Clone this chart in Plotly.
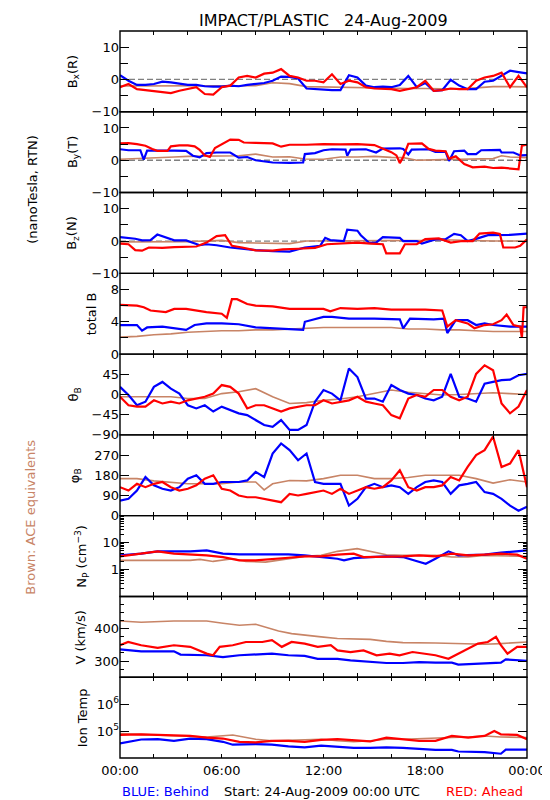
import plotly.graph_objects as go
from plotly.subplots import make_subplots

# ---------------- colours ----------------
BLUE = "#0000ff"
RED = "#ff0000"
BROWN = "#c88466"
FONT = "DejaVu Sans"

# ---------------- time grids (hours after 24-Aug-2009 00:00 UTC) ----------------
t_half = [0.0, 0.5, 1.0, 1.5, 2.0, 2.5, 3.0, 3.5, 4.0, 4.5, 5.0, 5.5, 6.0, 6.5, 7.0, 7.5,
          8.0, 8.5, 9.0, 9.5, 10.0, 10.5, 11.0, 11.5, 12.0, 12.5, 13.0, 13.5, 14.0, 14.5,
          15.0, 15.5, 16.0, 16.5, 17.0, 17.5, 18.0, 18.5, 19.0, 19.5, 20.0, 20.5, 21.0,
          21.5, 22.0, 22.5, 23.0, 23.5, 24.0]
t_hour = [0, 1, 2, 3, 4, 5, 6, 7, 8, 9, 10, 11, 12, 13, 14, 15, 16, 17, 18, 19, 20,
          21, 22, 23, 24]

x_tickvals = [0, 2, 4, 6, 8, 10, 12, 14, 16, 18, 20, 22, 24]
x_ticktext = ["00:00", "", "", "06:00", "", "", "12:00", "", "", "18:00", "", "", "00:00"]

# ---------------- Bx (R) ----------------
bx_blue = [1.3, -0.4, -1.7, -1.7, -1.4, -0.7, -0.9, -1.4, -1.7, -1.7, -2.1, -2.2, -2.2,
           -1.9, -2.1, -1.7, -1.5, -1.1, -0.4, 0.9, 0.8, 0.3, -2.8, -3.0, -3.1, -3.3,
           -3.3, 1.3, 0.6, -1.9, -2.4, -2.2, -2.4, -1.7, 1.1, -2.4, -1.1, -3.5, -3.3,
           -0.1, -1.9, -3.0, -3.0, -0.7, -0.4, 1.1, 2.7, 2.3, 1.9]
bx_red = [-2.4, -1.4, -3.0, -3.3, -3.5, -3.8, -4.2, -3.5, -3.0, -2.4, -4.5, -4.7, -2.4,
          -1.9, 0.6, 1.1, 0.6, 1.8, 2.1, 3.2, 1.1, 0.6, -0.4, -0.4, -0.9, 1.6, -1.4,
          -0.4, -0.9, -2.4, -2.8, -3.0, -3.0, -3.5, -3.0, -2.4, -0.4, -3.5, -3.3, -2.8,
          -3.0, -3.0, -0.4, 0.6, 1.1, 2.1, -2.4, 1.1, -2.4]
bx_ace = [-2.0, -2.0, -1.8, -2.0, -1.9, -1.8, -2.0, -2.0, -1.9, -1.0, -1.3, -2.2, -2.3,
          -2.4, -2.6, -2.8, -2.8, -2.8, -2.8, -3.0, -3.0, -2.6, -2.2, -2.2, -2.3]

# ---------------- By (T) ----------------
by_blue_t = [0, 0.5, 1.2, 1.4, 1.6, 2.5, 3.2, 3.9, 4.3, 4.7, 5.1, 5.7, 6.5, 7.0, 7.5, 8.0,
             8.5, 9.0, 10.0, 10.8, 10.9, 11.5, 12.0, 12.5, 13.3, 13.4, 13.6, 14.5, 15.1,
             15.5, 16.5, 16.7, 17.0, 17.2, 18.2, 18.6, 19.2, 19.4, 19.7, 20.3, 20.5, 21.0,
             21.3, 22.4, 22.5, 23.2, 23.6, 24.0]
by_blue = [3.4, 3.1, 3.1, 0.2, 3.0, 3.1, 3.0, 2.9, 1.4, 0.9, 2.2, 2.4, 2.4, 0.8, 1.0, 0.0,
           -0.3, -0.7, -0.8, -0.7, 1.9, 2.2, 3.1, 3.4, 3.3, 1.4, 3.3, 3.4, 2.4, 3.6, 3.7,
           3.5, 1.8, 3.3, 3.4, 2.6, 2.6, -0.2, 2.8, 3.0, 1.9, 1.9, 3.1, 3.2, 2.4, 2.4, 1.5,
           1.6]
by_red_t = [0, 0.5, 1.0, 1.5, 1.9, 2.2, 2.8, 3.0, 3.5, 4.0, 4.4, 4.7, 5.0, 5.3, 5.6, 6.0,
            6.5, 7.0, 7.3, 8.0, 9.0, 9.5, 10.0, 11.0, 12.0, 13.0, 14.0, 15.0, 15.5, 16.0,
            16.3, 16.5, 16.7, 17.0, 17.8, 18.2, 18.6, 19.2, 19.4, 19.8, 20.3, 20.8, 21.5,
            22.0, 22.5, 23.0, 23.5, 23.7, 24.0]
by_red = [5.2, 5.3, 5.0, 4.5, 3.5, 2.9, 2.9, 4.3, 4.6, 4.6, 4.3, 3.2, 1.5, 1.0, 3.8, 5.0,
          6.4, 6.3, 5.5, 5.4, 5.2, 4.2, 4.8, 4.8, 5.0, 4.9, 5.0, 4.7, 3.7, 2.5, 1.5, -0.9,
          1.0, 5.1, 5.2, 3.5, 3.0, 2.8, 0.5, 1.2, -1.2, -2.2, -2.0, -2.4, -2.3, -2.6, -2.8,
          4.5, 4.8]
by_ace_t = [0, 2, 3.2, 4, 5, 6, 7, 8, 9, 10, 10.9, 12, 13, 14, 15, 16, 16.7, 17.5, 18, 19,
            20, 21, 22, 22.5, 23, 24]
by_ace = [0.3, 0.6, 1.0, 1.2, 1.3, 1.4, 1.4, 1.9, 1.0, 1.1, 0.4, 0.3, 1.0, 1.0, 1.2, 0.9,
          0.8, 0.0, 0.0, 0.2, 0.3, 0.4, 0.5, 1.4, 1.0, 0.8]

# ---------------- Bz (N) ----------------
bz_blue_t = [0, 0.9, 1.3, 1.8, 2.2, 2.6, 3.2, 3.9, 4.3, 4.7, 5.1, 5.7, 6.5, 7.0, 8.0, 9.0,
             10.0, 10.9, 11.8, 12.1, 12.4, 13.2, 13.4, 14.0, 14.2, 14.7, 15.1, 15.5, 16.5,
             16.7, 17.5, 17.8, 18.6, 19.2, 19.7, 20.1, 20.5, 20.9, 21.3, 21.7, 23.0, 24.0]
bz_blue = [1.2, 0.7, 0.2, 0.3, 2.0, 1.2, 0.2, 0.2, -0.5, -1.3, -1.0, -1.3, -2.0, -2.3,
           -2.8, -3.1, -3.3, -2.0, -1.5, 1.0, 0.3, 0.0, 3.5, 3.2, 1.8, -0.6, -0.5, 1.2,
           1.0, 0.0, 0.0, -0.8, 0.5, 0.6, 2.2, 1.8, 0.0, 0.5, 1.2, 1.8, 1.9, 2.3]
bz_red_t = [0, 0.5, 0.9, 1.3, 1.7, 2.5, 3.2, 3.9, 4.5, 5.1, 5.7, 6.2, 6.6, 7.2, 8.0, 9.0,
            9.6, 10.5, 11.5, 12.2, 13.2, 14.0, 14.8, 15.5, 15.7, 16.5, 16.8, 17.5, 18.0,
            18.8, 19.5, 20.2, 20.8, 21.2, 22.0, 22.4, 22.6, 23.3, 23.6, 24.0]
bz_red = [-0.8, -1.0, -2.8, -3.0, -2.0, -2.1, -1.9, -1.8, -1.7, -0.5, 1.5, 1.8, -1.5,
          -2.0, -2.9, -3.0, -2.6, -2.4, -2.1, -1.0, -0.6, -0.5, -0.8, -1.0, -3.8, -3.8,
          -1.0, -1.0, 0.6, 0.8, -0.5, 0.0, 0.0, 2.3, 2.6, 2.2, -2.0, -2.0, -1.5, 0.5]
bz_ace_t = [0, 2, 4, 5, 6, 7, 8.5, 10, 11, 12, 13, 15, 17, 18, 19, 20, 22, 24]
bz_ace = [-0.3, -0.3, -0.2, 0.0, 0.2, -0.5, -0.7, -0.8, 0.0, 0.0, 0.2, 0.0, 0.0, 0.2,
          0.4, 0.2, 0.0, 0.0]

# ---------------- total B ----------------
bt_blue_t = [0, 1.0, 1.3, 1.6, 2.5, 3.2, 3.9, 4.4, 5.1, 6.0, 7.0, 8.0, 9.0, 10.0, 10.8,
             10.9, 12.0, 12.5, 13.5, 15.0, 16.5, 16.7, 17.1, 18.5, 19.1, 19.3, 19.8, 20.5,
             21.0, 21.5, 22.0, 23.0, 24.0]
bt_blue = [3.6, 3.6, 2.9, 3.3, 3.4, 3.2, 3.0, 3.6, 3.8, 3.8, 3.7, 3.3, 3.2, 3.1, 3.0,
           4.0, 4.6, 4.6, 4.4, 4.4, 4.3, 3.2, 4.4, 4.3, 4.4, 2.6, 4.2, 4.2, 3.6, 3.8, 3.6,
           3.4, 3.4]
bt_red_t = [0, 1.0, 1.4, 1.8, 2.7, 3.2, 3.9, 4.5, 5.1, 6.0, 6.3, 6.6, 6.9, 7.5, 8.0, 9.0,
            10.0, 11.0, 12.0, 12.4, 13.0, 14.0, 15.0, 16.0, 17.0, 18.0, 19.0, 19.3, 19.8,
            20.5, 20.9, 21.5, 22.0, 22.5, 22.8, 23.2, 23.6, 23.7, 23.8, 24.0]
bt_red = [6.1, 6.0, 5.8, 5.4, 5.2, 5.6, 5.6, 5.4, 5.2, 5.0, 4.5, 6.8, 6.8, 6.2, 6.0, 5.9,
          5.6, 5.6, 5.6, 5.3, 5.7, 5.6, 5.7, 5.5, 5.5, 5.5, 5.4, 3.4, 4.2, 3.8, 3.2, 3.6,
          3.7, 4.2, 4.9, 3.6, 3.4, 2.0, 5.8, 5.8]
bt_ace = [2.1, 2.2, 2.4, 2.5, 2.7, 2.8, 2.9, 2.9, 3.0, 3.0, 3.1, 3.2, 3.3, 3.3, 3.3, 3.3,
          3.3, 3.1, 3.1, 3.0, 3.0, 2.9, 2.8, 2.8, 2.8]

# ---------------- theta_B (deg) ----------------
th_blue = [17, -1, -24, -16, 17, 28, 13, 2, -24, -31, -24, -38, -27, -35, -42, -46, -57,
           -68, -72, -57, -79, -79, -68, -16, 10, 2, -13, 58, 39, -9, -9, -16, 21, 10, 2,
           -1, -9, -13, -5, 46, -5, -9, -16, 24, 28, 32, 33, 43, 46]
th_red = [-5, -24, -27, -27, -13, -20, -16, -20, -13, -9, -5, 2, 21, 17, 2, -31, -24, -24,
          -31, -38, -31, -27, -24, -24, -13, -20, -16, -13, -5, -16, -20, -24, -46, -53,
          -9, -1, -5, 10, 10, -5, -13, -5, 46, 65, 54, -20, -42, -27, 10]
th_ace = [-5, -5, -5, -5, -9, -9, 2, 6, 13, -5, -20, -18, -13, -10, -5, 2, 10, 5, 2, -1,
          0, 2, 4, 2, 0]

# ---------------- phi_B (deg) ----------------
ph_blue = [67, 75, 112, 172, 135, 120, 112, 127, 165, 180, 142, 142, 150, 150, 150, 157,
           195, 172, 277, 322, 292, 247, 277, 150, 142, 142, 142, 45, 75, 127, 142, 127,
           135, 127, 97, 127, 150, 157, 150, 97, 135, 142, 150, 105, 97, 75, 45, 22, 40]
ph_red = [127, 112, 142, 127, 142, 150, 127, 112, 120, 135, 165, 180, 120, 112, 90, 82,
          82, 75, 67, 60, 97, 90, 97, 105, 112, 97, 120, 97, 112, 127, 120, 127, 157, 202,
          127, 112, 127, 127, 135, 172, 157, 217, 270, 292, 352, 217, 232, 292, 127]
ph_ace_t = [0, 1, 2, 3, 4, 5, 6, 7, 8, 8.5, 9, 10, 11, 12, 13, 14, 15, 16, 17, 18, 19, 20,
            21, 22, 23, 24]
ph_ace = [165, 165, 155, 150, 142, 142, 142, 150, 150, 115, 142, 157, 155, 165, 180, 180,
          165, 165, 170, 180, 180, 180, 165, 145, 160, 150]

# ---------------- Np (cm^-3) ----------------
np_blue_t = [0, 1.25, 2.22, 4.14, 5.11, 6.07, 7.04, 9.93, 10.89, 11.86, 12.82, 13.21,
             13.78, 14.75, 15.71, 16.68, 17.64, 18.03, 18.6, 19.37, 19.95, 20.53, 21.5,
             22.46, 23.42, 24.0]
np_blue = [3.35, 3.87, 4.73, 4.73, 5.16, 3.87, 3.65, 3.65, 3.35, 2.90, 2.51, 2.18, 2.66,
           2.90, 3.07, 2.90, 2.00, 1.63, 2.51, 4.73, 3.35, 3.35, 3.55, 4.22, 4.73, 5.16]
np_red_t = [0, 1.25, 2.22, 3.18, 5.11, 6.07, 7.04, 8.0, 8.96, 9.93, 10.89, 11.86, 12.82,
            13.78, 14.36, 15.71, 16.68, 17.64, 18.6, 19.57, 20.53, 21.5, 22.46, 23.42,
            24.0]
np_red = [3.07, 3.87, 4.73, 3.87, 3.35, 2.90, 2.18, 2.18, 2.51, 2.74, 3.07, 3.07, 3.55,
          3.87, 2.90, 2.90, 3.07, 3.35, 3.07, 3.87, 3.35, 3.55, 3.87, 3.55, 2.51]
np_ace_t = [0, 4.14, 4.72, 5.49, 6.65, 7.42, 8.58, 9.93, 10.89, 11.86, 12.82, 13.98,
            14.75, 15.71, 16.68, 18.6, 19.57, 20.53, 21.5, 24.0]
np_ace = [2.18, 2.18, 2.37, 2.00, 2.51, 2.00, 1.88, 2.51, 3.07, 3.35, 4.73, 5.96, 4.73,
          3.55, 3.35, 3.35, 2.90, 2.90, 3.35, 3.07]

# ---------------- V (km/s) ----------------
v_blue_t = [0, 1.25, 3.18, 3.57, 5.11, 6.07, 7.04, 8.96, 9.93, 10.89, 11.66, 12.82, 13.59,
            14.36, 15.71, 16.68, 17.64, 18.6, 19.57, 19.95, 20.53, 21.5, 22.46, 22.75, 24.0]
v_blue = [336, 330, 330, 320, 318, 312, 318, 323, 318, 316, 307, 307, 302, 299, 294, 294,
          297, 295, 295, 289, 290, 291, 295, 305, 301]
v_red_t = [0, 0.48, 1.25, 2.22, 3.18, 4.14, 5.11, 5.49, 5.88, 6.65, 7.42, 8.39, 8.96,
           9.54, 10.12, 10.89, 11.66, 12.43, 12.82, 13.59, 14.36, 15.13, 15.9, 16.48,
           17.25, 18.03, 18.6, 19.37, 19.95, 20.53, 21.11, 21.69, 22.17, 22.46, 22.85,
           23.42, 24.0]
v_red = [349, 359, 349, 341, 349, 344, 323, 318, 344, 349, 359, 359, 365, 344, 359, 354,
         344, 349, 333, 328, 333, 318, 323, 318, 328, 323, 318, 307, 323, 339, 354, 359,
         375, 349, 323, 344, 344]
v_ace_t = [0, 1.25, 3.18, 5.11, 6.07, 7.04, 8.0, 8.58, 9.35, 10.12, 10.89, 11.86, 12.82,
           14.75, 15.71, 16.68, 18.6, 20.53, 21.5, 22.46, 24.0]
v_ace = [424, 420, 424, 424, 417, 411, 414, 406, 393, 385, 380, 375, 370, 367, 361, 357,
         356, 354, 352, 354, 359]

# ---------------- Ion temperature (K) ----------------
ti_blue_t = [0, 1.25, 2.22, 3.18, 4.14, 5.11, 6.07, 6.65, 8.0, 8.96, 9.93, 10.89, 11.86,
             12.82, 13.78, 14.75, 15.71, 16.68, 17.64, 18.6, 19.57, 19.95, 21.5, 22.46,
             22.75, 24.0]
ti_blue = [34800, 48700, 50000, 43500, 52800, 50000, 40000, 31200, 33000, 31200, 27200,
           25000, 28700, 26400, 23600, 23600, 25000, 23600, 21700, 20000, 20000, 17400,
           16500, 14400, 20500, 20500]
ti_red_t = [0, 1.25, 3.18, 4.14, 5.11, 6.07, 7.04, 8.0, 8.96, 9.93, 10.89, 11.86, 12.82,
            13.78, 14.75, 15.71, 16.68, 17.64, 18.6, 19.57, 20.53, 21.5, 22.07, 22.46,
            23.42, 24.0]
ti_red = [71700, 75800, 69600, 65900, 57400, 52800, 40000, 37900, 43500, 43500, 40000,
          47300, 50000, 46000, 41100, 57400, 50000, 43500, 43500, 65900, 57400, 65900,
          100000, 75800, 71700, 50000]
ti_ace_t = [0, 1.25, 3.18, 5.11, 6.65, 8.0, 8.96, 10.89, 11.86, 12.82, 13.78, 14.75,
            15.71, 16.68, 18.6, 19.57, 20.53, 21.5, 22.46, 24.0]
ti_ace = [80100, 75800, 65900, 60600, 71700, 50000, 43500, 46000, 50000, 43500, 40000,
          43500, 50000, 50000, 52800, 57400, 60600, 65900, 60600, 57400]

# ---------------- panel labels ----------------
panel_titles = ["B<sub>x</sub>(R)", "B<sub>y</sub>(T)", "B<sub>z</sub>(N)", "total B",
                "θ<sub>B</sub>", "φ<sub>B</sub>", "N<sub>P</sub> (cm<sup>−3</sup>)",
                "V (km/s)", "Ion Temp"]
title_x_px = [64, 64, 64, 83, 66, 66, 73, 72, 74]

# ---------------- build figure ----------------
W, H = 550, 800
ML, MR, MT, MB = 112, 23, 23, 50
PW, PH = W - ML - MR, H - MT - MB

fig = make_subplots(rows=9, cols=1, shared_xaxes=True, vertical_spacing=0)

panels = [
    [(t_hour, bx_ace, BROWN), (t_half, bx_blue, BLUE), (t_half, bx_red, RED)],
    [(by_ace_t, by_ace, BROWN), (by_blue_t, by_blue, BLUE), (by_red_t, by_red, RED)],
    [(bz_ace_t, bz_ace, BROWN), (bz_blue_t, bz_blue, BLUE), (bz_red_t, bz_red, RED)],
    [(t_hour, bt_ace, BROWN), (bt_blue_t, bt_blue, BLUE), (bt_red_t, bt_red, RED)],
    [(t_hour, th_ace, BROWN), (t_half, th_blue, BLUE), (t_half, th_red, RED)],
    [(ph_ace_t, ph_ace, BROWN), (t_half, ph_blue, BLUE), (t_half, ph_red, RED)],
    [(np_ace_t, np_ace, BROWN), (np_blue_t, np_blue, BLUE), (np_red_t, np_red, RED)],
    [(v_ace_t, v_ace, BROWN), (v_blue_t, v_blue, BLUE), (v_red_t, v_red, RED)],
    [(ti_ace_t, ti_ace, BROWN), (ti_blue_t, ti_blue, BLUE), (ti_red_t, ti_red, RED)],
]

for r, series in enumerate(panels, start=1):
    for xs, ys, col in series:
        fig.add_trace(go.Scatter(x=xs, y=ys, mode="lines",
                                 line=dict(color=col, width=1.6 if col == BROWN else 2.2),
                                 showlegend=False, hoverinfo="skip"), row=r, col=1)

tickfont = dict(family=FONT, size=13, color="black")
axis_common = dict(showline=False, mirror="ticks", ticks="inside", tickcolor="black",
                   showgrid=False, zeroline=False, tickfont=tickfont)

for r in range(1, 10):
    fig.update_xaxes(range=[0, 24], tickmode="array", tickvals=x_tickvals,
                     ticktext=x_ticktext, ticklen=4, tickwidth=1,
                     showticklabels=(r == 9), ticklabelstandoff=3,
                     row=r, col=1, **axis_common)

bfield = dict(range=[-10, 15], tickvals=[-10, 0, 10], ticktext=["−10", "0", "10"],
              ticklen=9, minor=dict(tickvals=[-5, 5], ticks="inside", ticklen=8,
                                    tickcolor="black"))
for r in (1, 2, 3):
    fig.update_yaxes(row=r, col=1, **bfield, **axis_common)
fig.update_yaxes(row=4, col=1, range=[0, 10], tickvals=[0, 4, 8], ticklen=9,
                 minor=dict(tickvals=[2, 6], ticks="inside", ticklen=8, tickcolor="black"),
                 **axis_common)
fig.update_yaxes(row=5, col=1, range=[-90, 90], tickvals=[-90, -45, 0, 45],
                 ticktext=["−90", "−45", "0", "45"], ticklen=9, **axis_common)
fig.update_yaxes(row=6, col=1, range=[0, 360], tickvals=[0, 90, 180, 270], ticklen=9,
                 **axis_common)
np_minor = [0.2, 0.3, 0.4, 0.5, 0.6, 0.7, 0.8, 0.9, 2, 3, 4, 5, 6, 7, 8, 9,
            20, 30, 40, 50, 60, 70, 80, 90]
fig.update_yaxes(row=7, col=1, type="log", range=[-1, 2], tickvals=[1, 10],
                 ticktext=["1", "10"], ticklen=9,
                 minor=dict(tickvals=np_minor, ticks="inside", ticklen=4, tickcolor="black"),
                 **axis_common)
fig.update_yaxes(row=8, col=1, range=[250, 500], tickvals=[300, 400], ticklen=9,
                 minor=dict(tickvals=[275, 325, 350, 375, 425, 450, 475], ticks="inside",
                            ticklen=4, tickcolor="black"),
                 **axis_common)
fig.update_yaxes(row=9, col=1, type="log", range=[4, 7], tickvals=[1e5, 1e6],
                 ticktext=["10<sup>5</sup>", "10<sup>6</sup>"], ticklen=9,
                 **axis_common)

# dashed zero reference line in the three field-component panels, and panel frames
for r in range(1, 10):
    xr = "x domain" if r == 1 else f"x{r} domain"
    yr = "y" if r == 1 else f"y{r}"
    if r <= 3:
        fig.add_shape(type="line", xref=xr, yref=yr, x0=0, x1=1, y0=0, y1=0,
                      line=dict(color="#808080", width=1.3, dash="6px,3px"),
                      layer="below")
    fig.add_shape(type="rect", xref=xr, yref=yr + " domain", x0=0, x1=1, y0=0, y1=1,
                  line=dict(color="black", width=1.4), fillcolor="rgba(0,0,0,0)",
                  layer="above")

annotations = []
for i, (txt, xpx) in enumerate(zip(panel_titles, title_x_px)):
    yc = 1 - (i + 0.5) / 9
    annotations.append(dict(text=txt, xref="paper", yref="paper",
                            x=(xpx - ML) / PW, y=yc, textangle=-90,
                            showarrow=False, xanchor="center", yanchor="middle",
                            font=dict(family=FONT, size=13, color="black")))

annotations += [
    dict(text="IMPACT/PLASTIC   24-Aug-2009", xref="paper", yref="paper",
         x=0.5, y=1 + 11 / PH, showarrow=False, xanchor="center", yanchor="middle",
         font=dict(family=FONT, size=16, color="black")),
    dict(text="(nanoTesla, RTN)", xref="paper", yref="paper",
         x=(22 - ML) / PW, y=1 - (181 - MT) / PH, textangle=-90, showarrow=False,
         xanchor="center", yanchor="middle",
         font=dict(family=FONT, size=13, color="black")),
    dict(text="Brown: ACE equivalents", xref="paper", yref="paper",
         x=(21 - ML) / PW, y=1 - (509 - MT) / PH, textangle=-90, showarrow=False,
         xanchor="center", yanchor="middle",
         font=dict(family=FONT, size=13, color=BROWN)),
    dict(text="BLUE: Behind", xref="paper", yref="paper",
         x=0, y=-(783 - (H - MB)) / PH, showarrow=False, xanchor="left",
         yanchor="middle", font=dict(family=FONT, size=13, color=BLUE)),
    dict(text="Start: 24-Aug-2009 00:00 UTC", xref="paper", yref="paper",
         x=(318 - ML) / PW, y=-(783 - (H - MB)) / PH, showarrow=False,
         xanchor="center", yanchor="middle",
         font=dict(family=FONT, size=13, color="black")),
    dict(text="RED: Ahead", xref="paper", yref="paper",
         x=(525 - ML) / PW, y=-(783 - (H - MB)) / PH, showarrow=False,
         xanchor="right", yanchor="middle", font=dict(family=FONT, size=13, color=RED)),
]

fig.update_layout(width=W, height=H, margin=dict(l=ML, r=MR, t=MT, b=MB),
                  paper_bgcolor="white", plot_bgcolor="white",
                  annotations=annotations, showlegend=False,
                  font=dict(family=FONT, size=13, color="black"))

fig.write_html("out.html")
